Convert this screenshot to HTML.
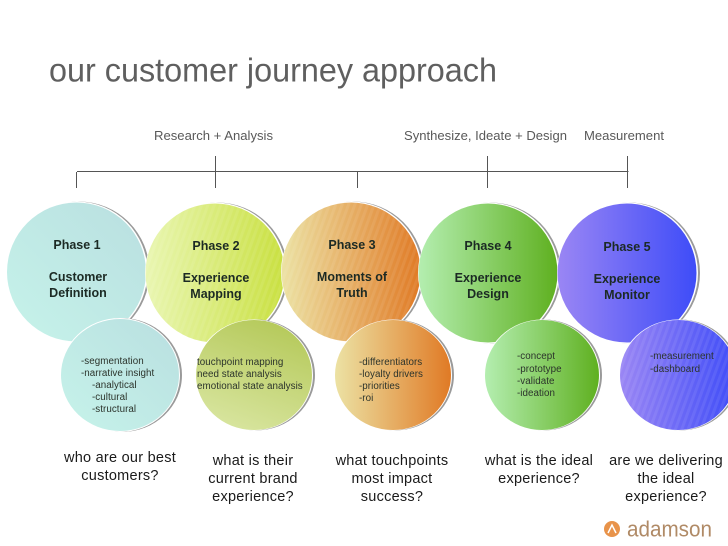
<!DOCTYPE html>
<html><head><meta charset="utf-8"><style>
html,body{margin:0;padding:0;background:#fff;width:728px;height:546px;overflow:hidden}
svg{display:block}
text{font-family:"Liberation Sans",sans-serif}
.h{font-size:12.500px;font-weight:bold;fill:#1c2a24;text-anchor:middle}
.s{font-size:9.800px;letter-spacing:.05px;fill:#2b332b}
.q{font-size:14.500px;letter-spacing:.25px;fill:#1a1a1a;text-anchor:middle}
.t{font-size:13px;fill:#595959}
</style></head><body>
<svg width="728" height="546" viewBox="0 0 728 546" xmlns="http://www.w3.org/2000/svg">
<defs>
<linearGradient id="g1" x1="0" y1="1" x2="1" y2="0"><stop offset="0" stop-color="#c6f3ea"/><stop offset="1" stop-color="#b9dfe0"/></linearGradient>
<linearGradient id="g2" x1="0" y1="0" x2="1" y2="0"><stop offset="0" stop-color="#e9f6b2"/><stop offset="1" stop-color="#c9e040"/></linearGradient>
<linearGradient id="g2s" x1="0.7" y1="0" x2="0.3" y2="1"><stop offset="0" stop-color="#b5c95a"/><stop offset="1" stop-color="#d8e59f"/></linearGradient>
<linearGradient id="g3" x1="0" y1="0" x2="1" y2="0"><stop offset="0" stop-color="#ece2a4"/><stop offset="1" stop-color="#e07a25"/></linearGradient>
<linearGradient id="g4" x1="0" y1="0" x2="1" y2="0"><stop offset="0" stop-color="#b4eeb0"/><stop offset="1" stop-color="#5fb020"/></linearGradient>
<linearGradient id="g5" x1="0" y1="0" x2="1" y2="0"><stop offset="0" stop-color="#9a86f4"/><stop offset="1" stop-color="#3e4cf8"/></linearGradient>
<pattern id="st" width="6" height="6" patternUnits="userSpaceOnUse" patternTransform="rotate(20)"><rect width="3" height="6" fill="#fff" fill-opacity=".07"/></pattern>
</defs>

<text x="49" y="81.500" font-size="33" fill="#5f5f5f" textLength="448" lengthAdjust="spacingAndGlyphs">our customer journey approach</text>

<text class="t" x="154" y="140" textLength="119" lengthAdjust="spacingAndGlyphs">Research + Analysis</text>
<text class="t" x="404" y="140" textLength="163" lengthAdjust="spacingAndGlyphs">Synthesize, Ideate + Design</text>
<text class="t" x="584" y="140" textLength="80" lengthAdjust="spacingAndGlyphs">Measurement</text>

<g stroke="#555" stroke-width="1" fill="none">
<path d="M77 171.500H628.500"/>
<path d="M76.500 172V188M215.500 156V188M357.500 171V188M487.500 156V188M627.500 156V188"/>
</g>

<!-- large circles -->
<circle cx="79" cy="272" r="70.500" fill="#9a9a9a"/>
<circle cx="77" cy="272" r="70.500" fill="#fff"/>
<circle cx="76.500" cy="272" r="69.500" fill="url(#g1)"/>

<circle cx="217.500" cy="273" r="70.500" fill="#9a9a9a"/>
<circle cx="215.500" cy="273" r="70.500" fill="#fff"/>
<circle cx="215" cy="273" r="69.500" fill="url(#g2)"/>
<circle cx="215" cy="273" r="69.500" fill="url(#st)"/>

<circle cx="353.500" cy="272" r="70.500" fill="#9a9a9a"/>
<circle cx="351.500" cy="272" r="70.500" fill="#fff"/>
<circle cx="351" cy="272" r="69.500" fill="url(#g3)"/>
<circle cx="351" cy="272" r="69.500" fill="url(#st)"/>

<circle cx="490.500" cy="273" r="70.500" fill="#9a9a9a"/>
<circle cx="488.500" cy="273" r="70.500" fill="#fff"/>
<circle cx="488" cy="273" r="69.500" fill="url(#g4)"/>

<circle cx="629.500" cy="273" r="70.500" fill="#9a9a9a"/>
<circle cx="627.500" cy="273" r="70.500" fill="#fff"/>
<circle cx="627" cy="273" r="69.500" fill="url(#g5)"/>

<!-- small circles -->
<ellipse cx="122" cy="375" rx="60" ry="57" fill="#9a9a9a"/>
<ellipse cx="120" cy="375" rx="60" ry="57" fill="#fff"/>
<ellipse cx="120" cy="375" rx="59" ry="56" fill="url(#g1)"/>

<ellipse cx="256" cy="375" rx="59" ry="55.500" fill="#9a9a9a"/>
<ellipse cx="254" cy="375" rx="59" ry="55.500" fill="#fff"/>
<ellipse cx="254" cy="375" rx="58" ry="55" fill="url(#g2s)"/>

<ellipse cx="395" cy="375" rx="59" ry="55.500" fill="#9a9a9a"/>
<ellipse cx="393" cy="375" rx="59" ry="55.500" fill="#fff"/>
<ellipse cx="393" cy="375" rx="58" ry="55" fill="url(#g3)"/>

<ellipse cx="544" cy="375" rx="58" ry="55.500" fill="#9a9a9a"/>
<ellipse cx="542" cy="375" rx="58" ry="55.500" fill="#fff"/>
<ellipse cx="542" cy="375" rx="57" ry="55" fill="url(#g4)"/>

<ellipse cx="680" cy="375" rx="59" ry="55.500" fill="#9a9a9a"/>
<ellipse cx="678" cy="375" rx="59" ry="55.500" fill="#fff"/>
<ellipse cx="678" cy="375" rx="58" ry="55" fill="url(#g5)"/>
<ellipse cx="678" cy="375" rx="58" ry="55" fill="url(#st)"/>

<!-- headings -->
<text class="h" x="77" y="249">Phase 1</text>
<text class="h" x="78" y="281">Customer</text>
<text class="h" x="78" y="297">Definition</text>

<text class="h" x="216" y="250">Phase 2</text>
<text class="h" x="216" y="282">Experience</text>
<text class="h" x="216" y="298">Mapping</text>

<text class="h" x="352" y="249">Phase 3</text>
<text class="h" x="352" y="281">Moments of</text>
<text class="h" x="352" y="297">Truth</text>

<text class="h" x="488" y="250">Phase 4</text>
<text class="h" x="488" y="282">Experience</text>
<text class="h" x="488" y="298">Design</text>

<text class="h" x="627" y="251">Phase 5</text>
<text class="h" x="627" y="283">Experience</text>
<text class="h" x="627" y="299">Monitor</text>

<!-- sub text -->
<text class="s" x="81" y="364">-segmentation</text>
<text class="s" x="81" y="376">-narrative insight</text>
<text class="s" x="92" y="388">-analytical</text>
<text class="s" x="92" y="400">-cultural</text>
<text class="s" x="92" y="412">-structural</text>

<text class="s" x="197" y="365">touchpoint mapping</text>
<text class="s" x="197" y="377">need state analysis</text>
<text class="s" x="197" y="389">emotional state analysis</text>

<text class="s" x="359" y="365">-differentiators</text>
<text class="s" x="359" y="377">-loyalty drivers</text>
<text class="s" x="359" y="389">-priorities</text>
<text class="s" x="359" y="401">-roi</text>

<text class="s" x="517" y="359">-concept</text>
<text class="s" x="517" y="372">-prototype</text>
<text class="s" x="517" y="384">-validate</text>
<text class="s" x="517" y="396">-ideation</text>

<text class="s" x="650" y="359">-measurement</text>
<text class="s" x="650" y="372">-dashboard</text>

<!-- questions -->
<text class="q" x="120" y="462">who are our best</text>
<text class="q" x="120" y="480">customers?</text>

<text class="q" x="253" y="465">what is their</text>
<text class="q" x="253" y="483">current brand</text>
<text class="q" x="253" y="501">experience?</text>

<text class="q" x="392" y="465">what touchpoints</text>
<text class="q" x="392" y="483">most impact</text>
<text class="q" x="392" y="501">success?</text>

<text class="q" x="539" y="465">what is the ideal</text>
<text class="q" x="539" y="483">experience?</text>

<text class="q" x="666" y="465">are we delivering</text>
<text class="q" x="666" y="483">the ideal</text>
<text class="q" x="666" y="501">experience?</text>

<!-- logo -->
<circle cx="612" cy="529" r="8" fill="#e8934a"/>
<path d="M608 533L612 525L616 533" fill="none" stroke="#fff" stroke-width="1.500"/>
<text x="627" y="536.500" font-size="22" fill="#b08a66" textLength="85" lengthAdjust="spacingAndGlyphs">adamson</text>
</svg>
</body></html>
